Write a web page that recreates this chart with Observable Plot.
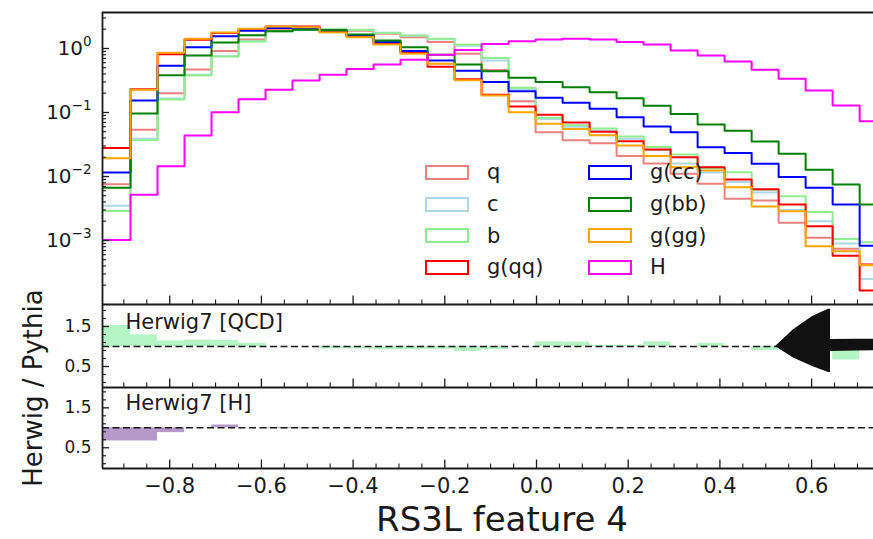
<!DOCTYPE html>
<html><head><meta charset="utf-8">
<script src="https://cdn.jsdelivr.net/npm/d3@7"></script>
<script src="https://cdn.jsdelivr.net/npm/@observablehq/plot@0.6"></script>
<style>
html,body{margin:0;padding:0;background:#fff;}
#chart{position:relative;width:873px;height:539px;overflow:hidden;font-family:"DejaVu Sans",sans-serif;color:#1a1a1a;}
#chart svg{position:absolute;left:0;}
.lbox{position:absolute;width:44px;height:15px;box-sizing:border-box;border:2px solid;background:transparent;}
.ltxt{position:absolute;font-size:21px;line-height:21px;white-space:nowrap;transform:translateY(-50%);}
.title{position:absolute;white-space:nowrap;}
</style></head><body><div id="chart"></div>
<script>
// ---- data ----
const binStart = -0.9444, binWidth = 0.0589;
const series = ["q", "c", "b", "g(qq)", "g(cc)", "g(bb)", "g(gg)", "H"];
const colors = ["#f08080", "#add8e6", "#90ee90", "#ff0000", "#0000ff", "#008000", "#ffa500", "#ff00ff"];
const qVals   = [0.0076,0.054,0.20,0.47,0.91,1.38,2.0,2.1,1.96,1.9,1.7,1.5,1.26,0.83,0.46,0.15,0.049,0.037,0.033,0.021,0.016,0.011,0.0077,0.0045,0.0042,0.0019,0.0011,0.00074,0.00043];
const cVals   = [0.0035,0.039,0.165,0.39,0.76,1.3,1.88,1.98,2.0,1.95,1.75,1.58,1.4,1.1,0.65,0.23,0.079,0.06,0.052,0.039,0.026,0.016,0.0115,0.0082,0.0056,0.003,0.002,0.0009,0.00025];
const bVals   = [0.0029,0.037,0.16,0.38,0.75,1.29,1.86,1.96,2.0,1.96,1.77,1.6,1.42,1.14,0.71,0.243,0.083,0.063,0.056,0.042,0.029,0.022,0.0135,0.0117,0.0062,0.0049,0.0028,0.00106,0.00094];
const gqqVals = [0.028,0.23,0.81,1.37,1.74,2.0,2.2,2.2,1.85,1.55,1.18,0.85,0.52,0.33,0.19,0.124,0.092,0.07,0.05,0.0356,0.0264,0.02,0.014,0.009,0.0063,0.00365,0.00167,0.00058,0.000166];
const gccVals = [0.0116,0.154,0.54,1.05,1.56,1.89,2.1,2.1,1.91,1.61,1.26,0.91,0.65,0.45,0.30,0.215,0.17,0.142,0.114,0.0845,0.0604,0.0493,0.0287,0.0232,0.0158,0.0098,0.0067,0.00365,0.00083];
const gbbVals = [0.0067,0.0965,0.383,0.78,1.24,1.61,1.86,1.96,1.93,1.65,1.33,1.05,0.8,0.56,0.44,0.35,0.30,0.249,0.208,0.167,0.127,0.095,0.065,0.052,0.0352,0.0226,0.0127,0.0075,0.00365];
const gggVals = [0.0193,0.226,0.855,1.42,1.78,2.03,2.21,2.15,1.78,1.5,1.16,0.83,0.58,0.32,0.184,0.101,0.067,0.055,0.044,0.0305,0.021,0.014,0.0124,0.0068,0.0034,0.00287,0.00081,0.00068,0.00041];
const hVals   = [0.00102,0.0052,0.0145,0.0437,0.101,0.161,0.226,0.316,0.39,0.48,0.56,0.67,0.8,0.95,1.18,1.30,1.38,1.42,1.38,1.26,1.15,0.93,0.78,0.627,0.464,0.336,0.221,0.129,0.073];
const qcdRatio = [1.525,1.29,1.14,1.16,1.15,1.08,1.0,1.0,0.94,0.94,0.92,0.92,0.93,0.875,0.92,1.0,1.12,1.11,1.03,1.03,1.12,1.0,1.08,1.0,0.9,1.0,1.0,0.66,1.0];
const hRatio   = [0.67,0.67,0.88,1.0,1.07,1.0,0.98,0.98,1.0,1.0,1.0,1.0,1.0,1.0,1.0,1.0,1.0,1.0,1.0,1.0,1.0,1.0,1.0,1.0,1.0,1.0,1.0,1.0,1.0];
// error band (the black arrow-like shape in the QCD ratio panel)
const errX  = [0.5213, 0.5605, 0.602, 0.6369, 0.6412, 0.6412, 0.70, 0.76];
const errLo = [1.0, 0.71, 0.5, 0.35, 0.35, 0.875, 0.885, 0.9];
const errHi = [1.0, 1.42, 1.75, 1.93, 1.93, 1.175, 1.18, 1.18];
const xTicks = [-0.8, -0.6, -0.4, -0.2, 0.0, 0.2, 0.4, 0.6];
const logTicks = [1e-3, 1e-2, 1e-1, 1];
const ratioTicks = [0.5, 1.5];
const ratioMinor = [0.1, 0.3, 0.7, 0.9, 1.1, 1.3, 1.7, 1.9];
const labelQCD = "Herwig7 [QCD]", labelH = "Herwig7 [H]";
const xTitle = "RS3L feature 4", yTitle = "Herwig / Pythia";

// ---- layout ----
const W = 873, ML = 102, PW = W - ML;
const xDomain = [-0.9466, 0.735];
const ink = "#1a1a1a";
const font = "DejaVu Sans";
const nb = qVals.length;
const allVals = [qVals, cVals, bVals, gqqVals, gccVals, gbbVals, gggVals, hVals];
const histRows = [];
series.forEach((s, k) => {
  const v = allVals[k];
  for (let i = 0; i <= nb; i++) histRows.push({s, x: binStart + i * binWidth, y: v[Math.min(i, nb - 1)]});
});
const bins = d3.range(nb).map(i => ({x1: binStart + i * binWidth, x2: binStart + (i + 1) * binWidth, qcd: qcdRatio[i], h: hRatio[i]}));
const errRows = errX.map((x, i) => ({x, lo: errLo[i], hi: errHi[i]}));
const xMinor = d3.range(-18, 15).filter(k => k % 4 !== 0).map(k => k * 0.05);
const logMinor = [];
for (let e = -4; e <= 0; e++) for (let m = 2; m <= 9; m++) { const v = m * Math.pow(10, e); if (v < 3.6) logMinor.push(v); }

const style = {fontFamily: font, fontSize: "20px", background: "transparent", color: ink, overflow: "visible"};
function xTickMarks(ph) {
  return [
    Plot.ruleX(xTicks, {insetTop: ph - 8.5, stroke: ink, strokeWidth: 1.3}),
    Plot.ruleX(xMinor, {insetTop: ph - 4.5, stroke: ink, strokeWidth: 1.1})
  ];
}
function frameMarks(yLo, yHi, withTop) {
  const m = [Plot.ruleX([xDomain[0]], {stroke: ink, strokeWidth: 1.8}), Plot.ruleY([yLo], {stroke: ink, strokeWidth: 1.8})];
  if (withTop) m.push(Plot.ruleY([yHi], {stroke: ink, strokeWidth: 1.8}));
  return m;
}

// ---- top panel ----
const topH = 304, topPH = topH - 12;
const yTopDomain = [1e-4, Math.pow(10, 0.5625)];
const topPlot = Plot.plot({
  width: W, height: topH, marginLeft: ML, marginRight: 0, marginTop: 12, marginBottom: 0,
  style,
  x: {domain: xDomain, axis: null},
  y: {type: "log", domain: yTopDomain, axis: null},
  color: {domain: series, range: colors},
  marks: [
    Plot.lineY(histRows, {x: "x", y: "y", z: "s", stroke: "s", curve: "step-after", strokeWidth: 2, clip: true}),
    Plot.ruleY(logTicks, {insetRight: PW - 7, stroke: ink, strokeWidth: 1.3}),
    Plot.ruleY(logMinor, {insetRight: PW - 4, stroke: ink, strokeWidth: 1.1}),
    Plot.axisY(logTicks, {anchor: "left", label: null, tickSize: 0, tickPadding: 11, fontSize: 20,
      tickFormat: d => "10^" + String(Math.round(Math.log10(d))).replace("-", "\u2212")}),
    ...xTickMarks(topPH),
    ...frameMarks(yTopDomain[0], yTopDomain[1], true)
  ]
});
topPlot.style.top = "0px";
d3.select(topPlot).selectAll('g[aria-label="y-axis tick label"] text').each(function () {
  const t = this.textContent;
  if (!t.includes("^")) return;
  const [b, e] = t.split("^");
  const sel = d3.select(this);
  sel.text(null);
  sel.append("tspan").text(b);
  sel.append("tspan").attr("dy", -8.5).attr("font-size", 13.5).text(e);
});

// ---- middle panel (QCD ratio) ----
const midTop = 304, midH = 83;
const yMid = [-0.025, 2.05];
const midPlot = Plot.plot({
  width: W, height: midH, marginLeft: ML, marginRight: 0, marginTop: 0, marginBottom: 0,
  style,
  x: {domain: xDomain, axis: null},
  y: {domain: yMid, axis: null},
  marks: [
    Plot.rectY(bins, {x1: "x1", x2: "x2", y1: () => 1, y2: "qcd", fill: "#b5f5c5", clip: true}),
    Plot.ruleY([1], {stroke: ink, strokeWidth: 1.6, strokeDasharray: "7,3.5"}),
    Plot.areaY(errRows, {x: "x", y1: "lo", y2: "hi", fill: "#111", curve: "linear", clip: true}),
    Plot.ruleY(ratioTicks, {insetRight: PW - 7, stroke: ink, strokeWidth: 1.3}),
    Plot.ruleY(ratioMinor, {insetRight: PW - 4, stroke: ink, strokeWidth: 1.1}),
    Plot.axisY(ratioTicks, {anchor: "left", label: null, tickSize: 0, tickPadding: 11, fontSize: 17, tickFormat: d3.format(".1f")}),
    Plot.text([labelQCD], {text: d => d, frameAnchor: "top-left", dx: 23, dy: 10, textAnchor: "start", lineAnchor: "top", fontSize: 21, fill: ink}),
    ...xTickMarks(midH),
    ...frameMarks(yMid[0], yMid[1], false)
  ]
});
midPlot.style.top = midTop + "px";

// ---- bottom panel (H ratio) ----
const botTop = 387, botH = 152, botPH = 81;
const yBot = [-0.02, 2.01];
const botPlot = Plot.plot({
  width: W, height: botH, marginLeft: ML, marginRight: 0, marginTop: 0, marginBottom: botH - botPH,
  style,
  x: {domain: xDomain, axis: null},
  y: {domain: yBot, axis: null},
  marks: [
    Plot.rectY(bins, {x1: "x1", x2: "x2", y1: () => 1, y2: "h", fill: "#b698cb", clip: true}),
    Plot.ruleY([1], {stroke: ink, strokeWidth: 1.6, strokeDasharray: "7,3.5"}),
    Plot.ruleY(ratioTicks, {insetRight: PW - 7, stroke: ink, strokeWidth: 1.3}),
    Plot.ruleY(ratioMinor, {insetRight: PW - 4, stroke: ink, strokeWidth: 1.1}),
    Plot.axisY(ratioTicks, {anchor: "left", label: null, tickSize: 0, tickPadding: 11, fontSize: 17, tickFormat: d3.format(".1f")}),
    Plot.axisX(xTicks, {anchor: "bottom", label: null, tickSize: 0, tickPadding: 10, fontSize: 21, tickFormat: d3.format(".1f")}),
    Plot.text([labelH], {text: d => d, frameAnchor: "top-left", dx: 23, dy: 8, textAnchor: "start", lineAnchor: "top", fontSize: 21, fill: ink}),
    Plot.text([xTitle], {text: d => d, frameAnchor: "bottom", dx: 14, dy: 52, lineAnchor: "middle", fontSize: 34, fill: ink}),
    ...xTickMarks(botPH),
    ...frameMarks(yBot[0], yBot[1], false)
  ]
});
botPlot.style.top = botTop + "px";

const chart = document.getElementById("chart");
chart.append(botPlot, midPlot, topPlot);

// y title spanning the two ratio panels
const yt = document.createElement("div");
yt.className = "title";
yt.textContent = yTitle;
Object.assign(yt.style, {left: "33px", top: "388px", fontSize: "26px", transform: "translate(-50%,-50%) rotate(-90deg)"});
chart.append(yt);

// legend
const legX = [425, 588], txtX = [487, 650], rowY = [172.3, 204, 235.7, 267.3];
series.forEach((s, i) => {
  const col = i < 4 ? 0 : 1, row = i % 4;
  const box = document.createElement("div");
  box.className = "lbox";
  Object.assign(box.style, {left: legX[col] + "px", top: (rowY[row] - 7.5) + "px", borderColor: colors[i]});
  const t = document.createElement("div");
  t.className = "ltxt";
  t.textContent = s;
  Object.assign(t.style, {left: txtX[col] + "px", top: rowY[row] + "px"});
  chart.append(box, t);
});
</script></body></html>
